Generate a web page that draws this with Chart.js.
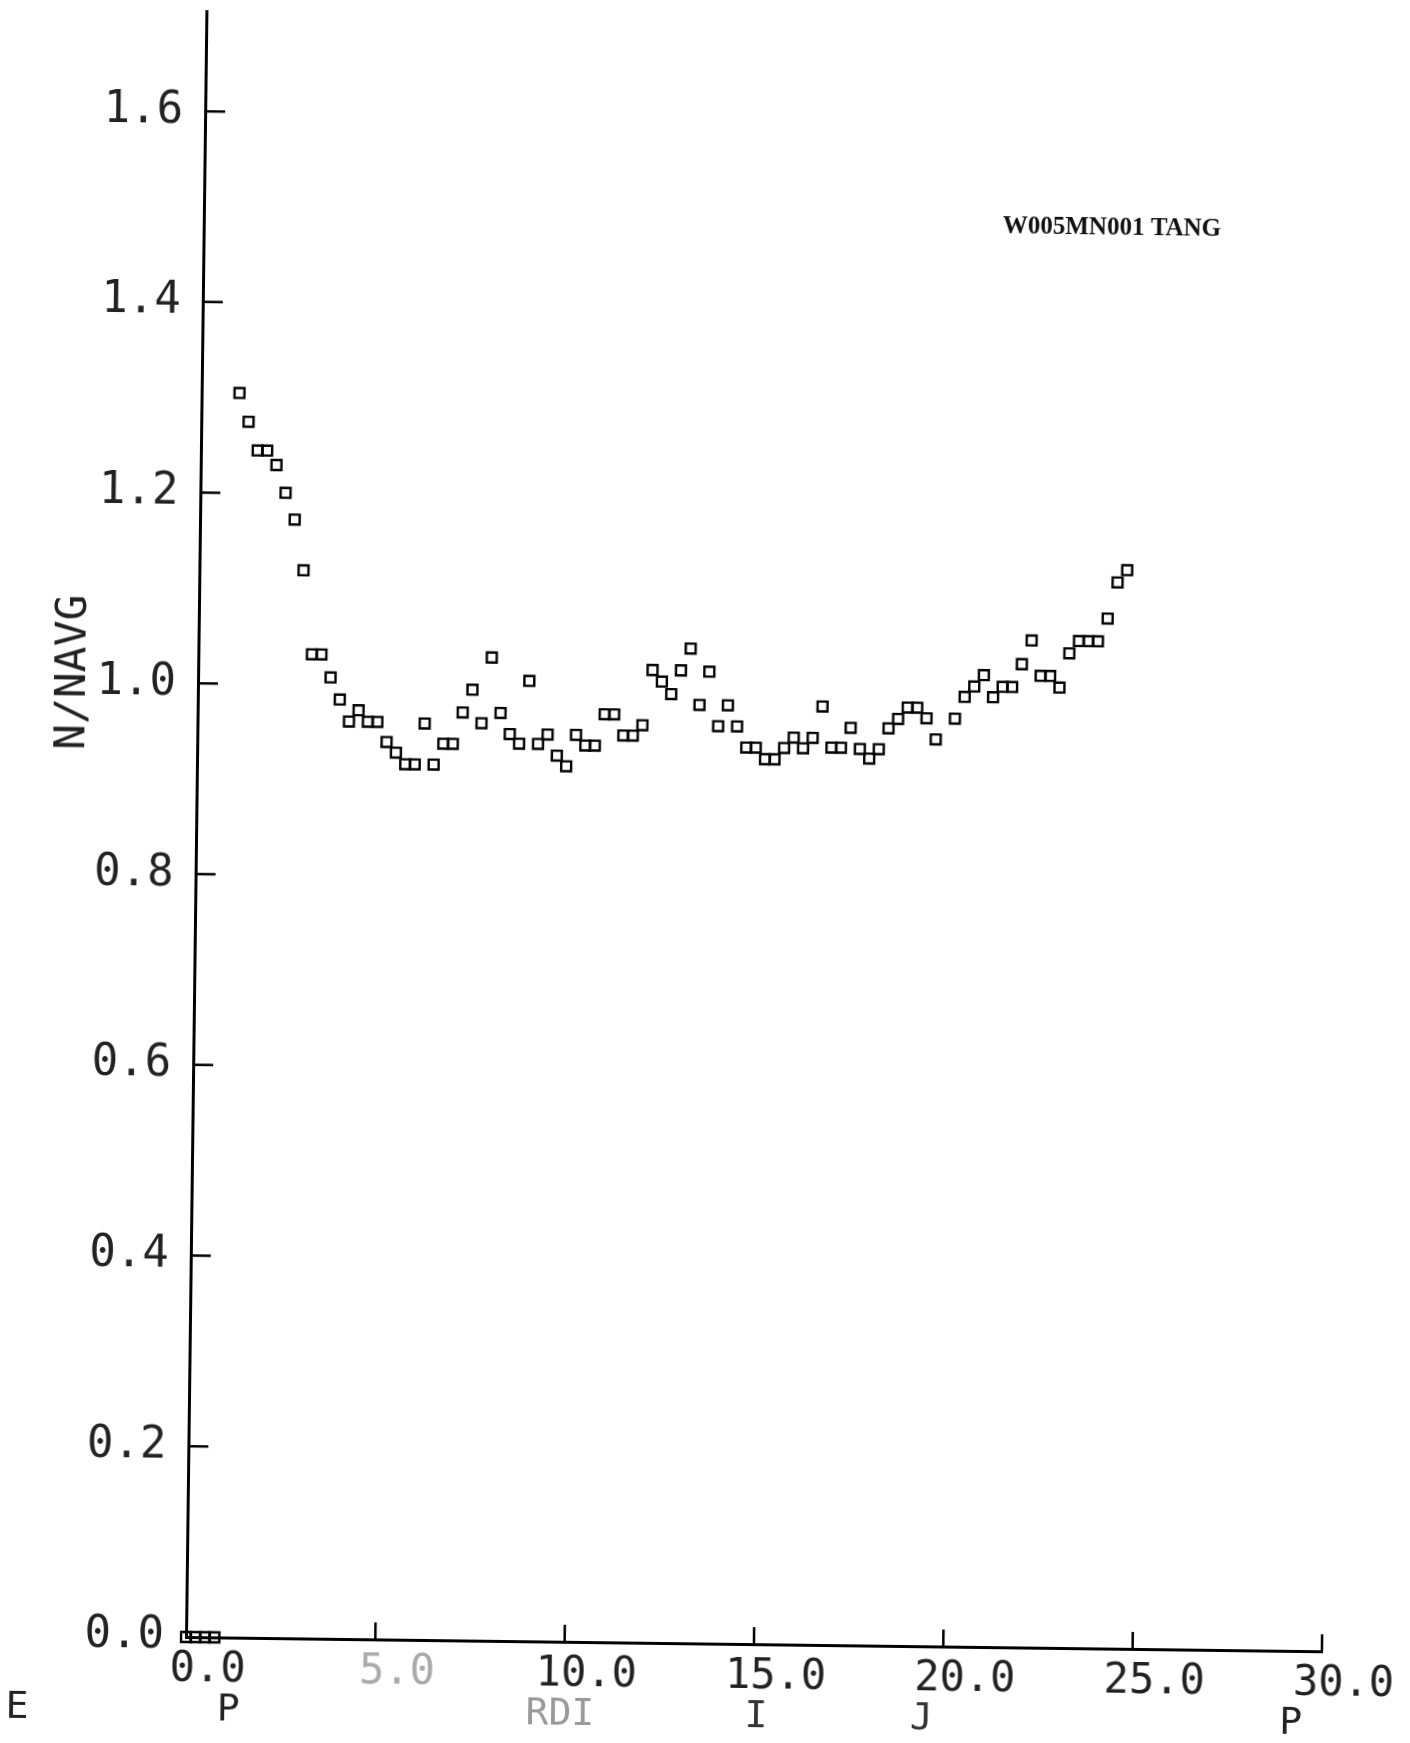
<!DOCTYPE html>
<html>
<head>
<meta charset="utf-8">
<title>W005MN001 TANG</title>
<script src="https://cdn.jsdelivr.net/npm/chart.js@4.4.1/dist/chart.umd.min.js"></script>
<style>
  html, body { margin: 0; padding: 0; background: #fff; overflow: hidden; }
  #plot {
    display: block;
    /* the scanned plot sits slightly skewed on the page */
    transform-origin: 186px 1637px;
    transform: rotate(0.72deg);
  }
</style>
</head>
<body>
<canvas id="plot" width="1410" height="1743"></canvas>
<script>
// radius positions
const radius = [
  0, 0.25, 0.5, 0.75,
  1, 1.25, 1.5, 1.75,
  2, 2.25, 2.5, 2.75,
  3, 3.25, 3.5, 3.75,
  4, 4.25, 4.5, 4.75,
  5, 5.25, 5.5, 5.75,
  6, 6.25, 6.5, 6.75,
  7, 7.25, 7.5, 7.75,
  8, 8.25, 8.5, 8.75,
  9, 9.25, 9.5, 9.75,
  10, 10.25, 10.5, 10.75,
  11, 11.25, 11.5, 11.75,
  12, 12.25, 12.5, 12.75,
  13, 13.25, 13.5, 13.75,
  14, 14.25, 14.5, 14.75,
  15, 15.25, 15.5, 15.75,
  16, 16.25, 16.5, 16.75,
  17, 17.25, 17.5, 17.75,
  18, 18.25, 18.5, 18.75,
  19, 19.25, 19.5,
  20, 20.25, 20.5, 20.75,
  21, 21.25, 21.5, 21.75,
  22, 22.25, 22.5, 22.75,
  23, 23.25, 23.5, 23.75,
  24, 24.25, 24.5
];

// N/NAVG values
const nNavg = [
  0, 0, 0, 0,
  1.305, 1.275, 1.245, 1.245,
  1.230, 1.201, 1.173, 1.120,
  1.032, 1.032, 1.008, 0.985,
  0.962, 0.974, 0.962, 0.962,
  0.941, 0.930, 0.918, 0.918,
  0.961, 0.918, 0.940, 0.940,
  0.973, 0.997, 0.962, 1.031,
  0.973, 0.951, 0.941, 1.007,
  0.941, 0.951, 0.929, 0.918,
  0.951, 0.940, 0.940, 0.973,
  0.973, 0.951, 0.951, 0.962,
  1.020, 1.008, 0.995, 1.020,
  1.043, 0.984, 1.019, 0.962,
  0.984, 0.962, 0.940, 0.940,
  0.928, 0.928, 0.940, 0.951,
  0.940, 0.951, 0.984, 0.941,
  0.941, 0.962, 0.940, 0.930,
  0.940, 0.962, 0.972, 0.984,
  0.984, 0.973, 0.951,
  0.973, 0.996, 1.007, 1.019,
  0.996, 1.007, 1.007, 1.031,
  1.056, 1.019, 1.019, 1.007,
  1.043, 1.056, 1.056, 1.056,
  1.080, 1.118, 1.131
];

const xTickLabels = ['0.0', '5.0', '10.0', '15.0', '20.0', '25.0', '30.0'];
const yTickLabels = ['0.0', '0.2', '0.4', '0.6', '0.8', '1.0', '1.2', '1.4', '1.6'];

const plotFont = 'DejaVu Sans Mono';

const points = radius.map((r, i) => ({ x: r, y: nNavg[i] }));

// tick marks point inward, plus the stray texts of the plot
const plotExtras = {
  id: 'plotExtras',
  afterDraw(chart) {
    const { ctx, scales: { x, y } } = chart;
    ctx.save();
    ctx.strokeStyle = '#000';
    ctx.lineWidth = 2.5;
    ctx.beginPath();
    y.ticks.forEach(t => {
      if (t.value <= 0) return;
      const py = y.getPixelForValue(t.value);
      ctx.moveTo(x.left, py);
      ctx.lineTo(x.left + 20, py);
    });
    x.ticks.forEach(t => {
      if (t.value <= 0) return;
      const px = x.getPixelForValue(t.value);
      ctx.moveTo(px, y.bottom);
      ctx.lineTo(px, y.bottom - 17);
    });
    ctx.stroke();

    // run label
    ctx.fillStyle = '#111';
    ctx.font = 'bold 25px "Liberation Serif"';
    ctx.textAlign = 'left';
    ctx.textBaseline = 'middle';
    ctx.fillText('W005MN001 TANG', x.getPixelForValue(21.1), y.getPixelForValue(1.489));

    // y axis title
    ctx.save();
    ctx.translate(62, y.getPixelForValue(1.01));
    ctx.rotate(-Math.PI / 2);
    ctx.textAlign = 'center';
    ctx.font = '43px "' + plotFont + '"';
    ctx.fillStyle = '#222';
    ctx.fillText('N/NAVG', 0, 0);
    ctx.restore();

    // broken axis caption under the tick labels
    ctx.font = '38px "' + plotFont + '"';
    ctx.textAlign = 'center';
    [['E', -4.44, '#222'], ['P', 1.14, '#222'], ['RDI', 9.9, '#999'],
     ['I', 15.08, '#333'], ['J', 19.44, '#333'], ['P', 29.2, '#222']].forEach(([txt, at, col]) => {
      ctx.fillStyle = col;
      ctx.fillText(txt, x.getPixelForValue(at), y.bottom + 73);
    });
    ctx.restore();
  }
};

new Chart(document.getElementById('plot'), {
  type: 'scatter',
  data: {
    datasets: [{
      data: points,
      pointStyle: 'rect',
      pointRadius: 7,
      pointBorderWidth: 2.4,
      pointBorderColor: '#000',
      pointBackgroundColor: 'rgba(0,0,0,0)',
      showLine: false,
      clip: false
    }]
  },
  options: {
    responsive: false,
    animation: false,
    devicePixelRatio: 1,
    layout: { padding: { left: 0, right: 88, top: 11, bottom: 0 } },
    plugins: { legend: { display: false }, tooltip: { enabled: false } },
    scales: {
      x: {
        type: 'linear',
        min: 0,
        max: 30,
        afterFit: s => { s.height = 106; s.paddingLeft = 0; },
        grid: { display: true, drawOnChartArea: false, drawTicks: false },
        border: { display: true, color: '#000', width: 3 },
        ticks: {
          stepSize: 5,
          padding: 8,
          labelOffset: 22,
          font: { family: plotFont, size: 42 },
          color: ctx => (ctx.index === 1 ? '#aaa' : '#222'),
          callback: (v, i) => xTickLabels[i]
        }
      },
      y: {
        type: 'linear',
        min: 0,
        max: 1.705,
        afterFit: s => { s.width = 186; s.paddingTop = 0; s.paddingBottom = 0; },
        grid: { display: true, drawOnChartArea: false, drawTicks: false },
        border: { display: true, color: '#000', width: 3 },
        ticks: {
          stepSize: 0.2,
          includeBounds: false,
          padding: 22,
          font: { family: plotFont, size: 44 },
          color: '#222',
          callback: (v, i) => yTickLabels[i]
        }
      }
    }
  },
  plugins: [plotExtras]
});
</script>
</body>
</html>
